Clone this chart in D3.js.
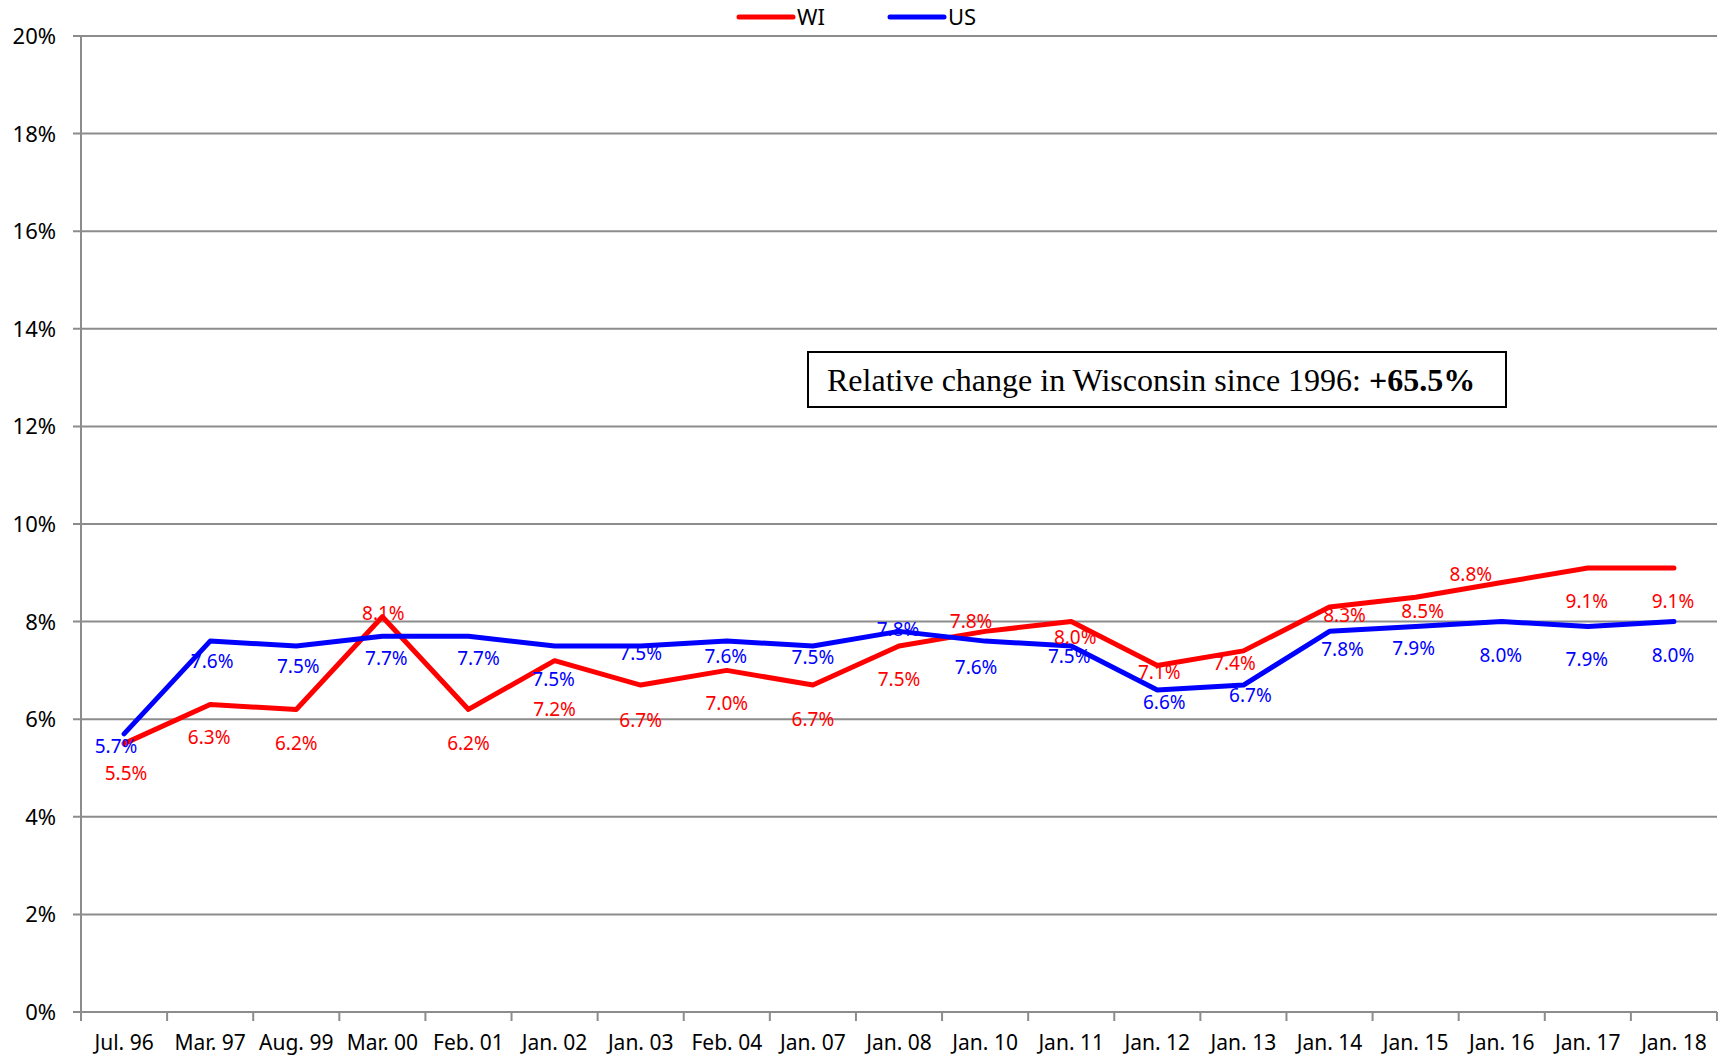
<!DOCTYPE html>
<html>
<head>
<meta charset="utf-8">
<script src="https://cdn.jsdelivr.net/npm/d3@7"></script>
<style>
  body { margin: 0; background: #fff; }
  svg { display: block; font-family: "Noto Sans", sans-serif; }
</style>
</head>
<body>
<div id="chart"></div>
<script>
const categories = ["Jul. 96", "Mar. 97", "Aug. 99", "Mar. 00", "Feb. 01", "Jan. 02", "Jan. 03", "Feb. 04", "Jan. 07", "Jan. 08",
  "Jan. 10", "Jan. 11", "Jan. 12", "Jan. 13", "Jan. 14", "Jan. 15", "Jan. 16", "Jan. 17", "Jan. 18"];
const wiValues = [5.5, 6.3, 6.2, 8.1, 6.2, 7.2, 6.7, 7.0, 6.7, 7.5, 7.8, 8.0, 7.1, 7.4, 8.3, 8.5, 8.8, 9.1, 9.1];
const usValues = [5.7, 7.6, 7.5, 7.7, 7.7, 7.5, 7.5, 7.6, 7.5, 7.8, 7.6, 7.5, 6.6, 6.7, 7.8, 7.9, 8.0, 7.9, 8.0];
const yTicks = [0, 2, 4, 6, 8, 10, 12, 14, 16, 18, 20];
const annotation = "Relative change in Wisconsin since 1996: ";
const annotationValue = "+65.5%";

// label nudges, as Excel placed them (px)
const wiLabelDx = [2, -1, 0, 1, 0, 0, 0, 0, 0, 0, -14, 4, 2, -9, 15, 7, -31, -1, -1];
const wiLabelDy = [30, 33, 34, -4, 34, 49, 35, 33, 34, 33, -10, 16, 7, 12, 8, 14, -8, 33, 33];
const usLabelDx = [-8, 2, 2, 4, 10, -1, 0, -1, 0, -1, -9, -2, 7, 7, 13, -2, -1, -1, -1];
const usLabelDy = [12, 20, 20, 22, 22, 33, 7, 15, 11, -2, 26, 10, 12, 10, 18, 22, 34, 33, 34];

const width = 1720, height = 1057;
const plot = { left: 81, right: 1717, top: 36, bottom: 1012 };
const gridColor = "#8c8c8c";

const svg = d3.select("#chart").append("svg")
  .attr("width", width).attr("height", height);

const x = d3.scaleBand().domain(categories).range([plot.left, plot.right]);
const y = d3.scaleLinear().domain([0, 20]).range([plot.bottom, plot.top]);
const cx = (d) => x(d) + x.bandwidth() / 2;

// horizontal gridlines
svg.append("g")
  .selectAll("line")
  .data(yTicks)
  .join("line")
  .attr("x1", plot.left - 8).attr("x2", plot.right)
  .attr("y1", (d) => y(d)).attr("y2", (d) => y(d))
  .attr("stroke", gridColor).attr("stroke-width", 2);

// y axis line
svg.append("line")
  .attr("x1", plot.left).attr("x2", plot.left)
  .attr("y1", plot.top).attr("y2", plot.bottom + 9)
  .attr("stroke", gridColor).attr("stroke-width", 2);

// y tick labels
svg.append("g")
  .selectAll("text")
  .data(yTicks)
  .join("text")
  .attr("x", 56)
  .attr("y", (d) => y(d))
  .attr("dy", "0.36em")
  .attr("text-anchor", "end")
  .attr("font-size", 22)
  .attr("fill", "#000")
  .text((d) => d + "%");

// x tick marks at band edges
svg.append("g")
  .selectAll("line")
  .data(categories)
  .join("line")
  .attr("x1", (d) => x(d) + x.bandwidth()).attr("x2", (d) => x(d) + x.bandwidth())
  .attr("y1", plot.bottom).attr("y2", plot.bottom + 9)
  .attr("stroke", gridColor).attr("stroke-width", 2);

// x labels
svg.append("g")
  .selectAll("text")
  .data(categories)
  .join("text")
  .attr("x", cx)
  .attr("y", 1050)
  .attr("text-anchor", "middle")
  .attr("font-size", 21)
  .attr("fill", "#000")
  .text((d) => d);

// series
const series = [
  { name: "WI", values: wiValues, color: "#ff0000", dx: wiLabelDx, dy: wiLabelDy },
  { name: "US", values: usValues, color: "#0000ff", dx: usLabelDx, dy: usLabelDy },
];

const line = d3.line()
  .x((d, i) => cx(categories[i]))
  .y((d) => y(d));

series.forEach((s) => {
  svg.append("path")
    .datum(s.values)
    .attr("d", line)
    .attr("fill", "none")
    .attr("stroke", s.color)
    .attr("stroke-width", 5)
    .attr("stroke-linecap", "round")
    .attr("stroke-linejoin", "round");
});

series.forEach((s) => {
  svg.append("g")
    .selectAll("text")
    .data(s.values)
    .join("text")
    .attr("x", (d, i) => cx(categories[i]) + s.dx[i])
    .attr("y", (d, i) => y(d) + s.dy[i])
    .attr("dy", "0.36em")
    .attr("text-anchor", "middle")
    .attr("font-size", 19)
    .attr("fill", s.color)
    .text((d) => d.toFixed(1) + "%");
});

// legend
const legend = svg.append("g");
[{ s: series[0], x0: 739 }, { s: series[1], x0: 890 }].forEach(({ s, x0 }) => {
  legend.append("line")
    .attr("x1", x0).attr("x2", x0 + 54)
    .attr("y1", 17).attr("y2", 17)
    .attr("stroke", s.color).attr("stroke-width", 5)
    .attr("stroke-linecap", "round");
  legend.append("text")
    .attr("x", x0 + 58).attr("y", 25)
    .attr("font-size", 22)
    .attr("fill", "#000")
    .text(s.name);
});

// annotation box
svg.append("rect")
  .attr("x", 808).attr("y", 352)
  .attr("width", 698).attr("height", 55)
  .attr("fill", "#fff")
  .attr("stroke", "#000").attr("stroke-width", 2);

const note = svg.append("text")
  .attr("x", 827).attr("y", 391)
  .attr("font-family", "'Liberation Serif', 'Times New Roman', serif")
  .attr("font-size", 32)
  .attr("fill", "#000");
note.append("tspan").text(annotation);
note.append("tspan").attr("font-weight", "bold").text(annotationValue);
</script>
</body>
</html>
